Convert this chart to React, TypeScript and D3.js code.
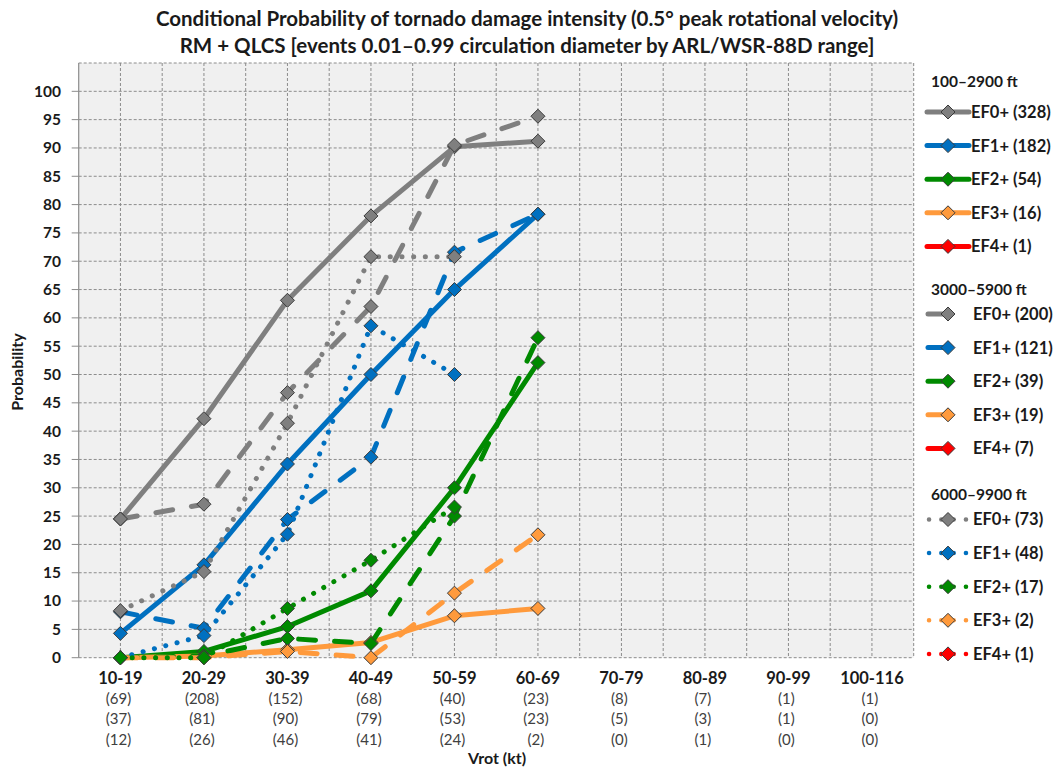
import React, { useEffect, useRef } from "react";
import * as d3 from "d3";

// categories along the x axis and the sample counts printed beneath them
const categories = ["10-19", "20-29", "30-39", "40-49", "50-59", "60-69", "70-79", "80-89", "90-99", "100-116"];
const countsRow1 = ["(69)", "(208)", "(152)", "(68)", "(40)", "(23)", "(8)", "(7)", "(1)", "(1)"];
const countsRow2 = ["(37)", "(81)", "(90)", "(79)", "(53)", "(23)", "(5)", "(3)", "(1)", "(0)"];
const countsRow3 = ["(12)", "(26)", "(46)", "(41)", "(24)", "(2)", "(0)", "(1)", "(0)", "(0)"];

const yTickValues = [0, 5, 10, 15, 20, 25, 30, 35, 40, 45, 50, 55, 60, 65, 70, 75, 80, 85, 90, 95, 100];

type V = number | null;

// 100–2900 ft (solid)
const solidEF0: V[] = [24.5, 42.2, 63.1, 78.0, 90.2, 91.2];
const solidEF1: V[] = [4.3, 16.4, 34.2, 50.0, 65.0, 78.3];
const solidEF2: V[] = [0, 1.1, 5.5, 11.8, 30.0, 52.1];
const solidEF3: V[] = [0, 0.3, 1.4, 2.7, 7.4, 8.7];
const solidEF4: V[] = [];

// 3000–5900 ft (dashed)
const dashEF0: V[] = [24.5, 27.1, 46.8, 62.0, 90.5, 95.6];
const dashEF1: V[] = [8.1, 5.2, 24.4, 35.4, 71.6, 78.3];
const dashEF2: V[] = [0, 0.3, 3.4, 2.5, 25.0, 56.5];
const dashEF3: V[] = [0, 0, 1.1, 0, 11.4, 21.7];
const dashEF4: V[] = [];

// 6000–9900 ft (dotted)
const dotEF0: V[] = [8.3, 15.2, 41.4, 70.8, 70.8];
const dotEF1: V[] = [0, 3.9, 21.8, 58.6, 50.0];
const dotEF2: V[] = [0, 0, 8.7, 17.2, 26.6];
const dotEF3: V[] = [];
const dotEF4: V[] = [];

const efColors = ["#7f7f7f", "#0070c0", "#008a00", "#ff9a3c", "#ff0000"];

const legendTitles = ["100–2900 ft", "3000–5900 ft", "6000–9900 ft"];
const legendSolid = ["EF0+ (328)", "EF1+ (182)", "EF2+ (54)", "EF3+ (16)", "EF4+ (1)"];
const legendDash = ["EF0+ (200)", "EF1+ (121)", "EF2+ (39)", "EF3+ (19)", "EF4+ (7)"];
const legendDot = ["EF0+ (73)", "EF1+ (48)", "EF2+ (17)", "EF3+ (2)", "EF4+ (1)"];

const FONT = "Lato, 'Open Sans', sans-serif";

const App: React.FC = () => {
  const svgRef = useRef<SVGSVGElement | null>(null);

  useEffect(() => {
    if (!svgRef.current) return;
    const svg = d3.select(svgRef.current);
    svg.selectAll("*").remove();

    const width = 1054;
    const height = 768;
    const plot = { left: 78.7, right: 913.7, top: 63, bottom: 657.7 };

    const x = d3.scaleBand<string>().domain(categories).range([plot.left, plot.right]).padding(0);
    const cx = (i: number) => (x(categories[i]) as number) + x.bandwidth() / 2;
    const y = d3.scaleLinear().domain([0, 105]).range([plot.bottom, plot.top]);

    svg.attr("width", width).attr("height", height).attr("viewBox", `0 0 ${width} ${height}`);
    svg.append("rect").attr("width", width).attr("height", height).attr("fill", "#fff");

    // plot background
    svg.append("rect")
      .attr("x", plot.left).attr("y", plot.top)
      .attr("width", plot.right - plot.left).attr("height", plot.bottom - plot.top)
      .attr("fill", "#f0f0f0");

    // grid
    const grid = svg.append("g").attr("stroke", "#8c8c8c").attr("stroke-width", 1).attr("stroke-dasharray", "3,2");
    d3.range(0, 106, 5).forEach(v => {
      grid.append("line").attr("x1", plot.left).attr("x2", plot.right).attr("y1", y(v)).attr("y2", y(v));
    });
    const vx: number[] = [];
    categories.forEach((c, i) => {
      vx.push(x(c) as number);
      vx.push(cx(i));
    });
    vx.push(plot.right);
    vx.slice(1).forEach(px => {
      grid.append("line").attr("x1", px).attr("x2", px).attr("y1", plot.top).attr("y2", plot.bottom);
    });

    // y axis
    svg.append("line")
      .attr("x1", plot.left).attr("x2", plot.left).attr("y1", plot.top).attr("y2", plot.bottom)
      .attr("stroke", "#8c8c8c").attr("stroke-width", 1.2);
    const yAxis = svg.append("g");
    yTickValues.forEach(v => {
      yAxis.append("line").attr("x1", plot.left - 7).attr("x2", plot.left).attr("y1", y(v)).attr("y2", y(v))
        .attr("stroke", "#8c8c8c");
      yAxis.append("text").attr("x", 61).attr("y", y(v)).attr("dy", "0.35em")
        .attr("text-anchor", "end").style("font-family", FONT).style("font-size", "15.5px")
        .style("font-weight", "700").style("fill", "#1a1a1a").text(String(v));
    });

    // x labels
    const xl = svg.append("g").style("font-family", FONT);
    categories.forEach((c, i) => {
      xl.append("text").attr("x", cx(i)).attr("y", 684).attr("text-anchor", "middle")
        .style("font-size", "16.5px").style("font-weight", "700").style("fill", "#1a1a1a").text(c);
      [countsRow1, countsRow2, countsRow3].forEach((row, r) => {
        xl.append("text").attr("x", cx(i) - 2).attr("y", 703.5 + r * 20.5).attr("text-anchor", "middle")
          .style("font-size", "15px").style("fill", "#404040").text(row[i]);
      });
    });

    xl.append("text").attr("x", 497).attr("y", 764).attr("text-anchor", "middle")
      .style("font-size", "16px").style("font-weight", "700").style("fill", "#1a1a1a").text("Vrot (kt)");

    svg.append("text").attr("transform", "rotate(-90)").attr("x", -372).attr("y", 23)
      .attr("text-anchor", "middle").style("font-family", FONT).style("font-size", "16px")
      .style("font-weight", "700").style("fill", "#1a1a1a").text("Probability");

    // title
    const title = svg.append("g").style("font-family", FONT).style("font-weight", "700").style("fill", "#1a1a1a");
    title.append("text").attr("x", 527).attr("y", 26).attr("text-anchor", "middle").style("font-size", "20.5px")
      .text("Conditional Probability of tornado damage intensity (0.5° peak rotational velocity)");
    title.append("text").attr("x", 527).attr("y", 53).attr("text-anchor", "middle").style("font-size", "20.5px")
      .text("RM + QLCS [events 0.01–0.99 circulation diameter by ARL/WSR-88D range]");

    // series
    const dashStyles: Record<string, string | null> = { solid: null, dash: "17,19", dot: "0.1,11.6" };
    const seriesList: { values: V[]; style: string; color: string }[] = [];
    [solidEF0, solidEF1, solidEF2, solidEF3, solidEF4].forEach((v, k) => seriesList.push({ values: v, style: "solid", color: efColors[k] }));
    [dashEF0, dashEF1, dashEF2, dashEF3, dashEF4].forEach((v, k) => seriesList.push({ values: v, style: "dash", color: efColors[k] }));
    [dotEF0, dotEF1, dotEF2, dotEF3, dotEF4].forEach((v, k) => seriesList.push({ values: v, style: "dot", color: efColors[k] }));

    const line = d3.line<V>()
      .defined(d => d != null)
      .x((_, i) => cx(i))
      .y(d => y(d as number));

    const diamond = (g: d3.Selection<SVGGElement, unknown, null, undefined>, px: number, py: number, color: string) => {
      const r = 7;
      g.append("path")
        .attr("d", `M${px},${py - r}L${px + r},${py}L${px},${py + r}L${px - r},${py}Z`)
        .attr("fill", color).attr("stroke", "#3a3a3a").attr("stroke-width", 1);
    };

    const marks = svg.append("g");
    seriesList.forEach(s => {
      if (!s.values.length) return;
      const g = marks.append("g");
      const p = g.append("path").datum(s.values).attr("d", line)
        .attr("fill", "none").attr("stroke", s.color)
        .attr("stroke-width", 5)
        .attr("stroke-linecap", "round").attr("stroke-linejoin", "round");
      const da = dashStyles[s.style];
      if (da) p.attr("stroke-dasharray", da);
      s.values.forEach((v, i) => {
        if (v == null) return;
        diamond(g, cx(i), y(v), s.color);
      });
    });

    // legend
    const lg = svg.append("g").style("font-family", FONT).style("font-weight", "700").style("fill", "#1a1a1a");
    const groupTitleY = [87, 295, 500];
    const firstEntryY = [112, 314, 519.5];
    const groups = [legendSolid, legendDash, legendDot];
    const styles = ["solid", "dash", "dot"];
    groups.forEach((labels, gi) => {
      lg.append("text").attr("x", 931).attr("y", groupTitleY[gi]).style("font-size", "15.5px").text(legendTitles[gi]);
      labels.forEach((lab, k) => {
        const ly = firstEntryY[gi] + k * 33.6;
        const color = efColors[k];
        const eg = lg.append("g");
        if (styles[gi] === "solid") {
          eg.append("line").attr("x1", 927).attr("x2", 969).attr("y1", ly).attr("y2", ly)
            .attr("stroke", color).attr("stroke-width", 5).attr("stroke-linecap", "round");
        } else if (styles[gi] === "dash") {
          eg.append("line").attr("x1", 928).attr("x2", 946).attr("y1", ly).attr("y2", ly)
            .attr("stroke", color).attr("stroke-width", 5).attr("stroke-linecap", "round");
        } else {
          eg.append("line").attr("x1", 929).attr("x2", 966).attr("y1", ly).attr("y2", ly)
            .attr("stroke", color).attr("stroke-width", 4.5).attr("stroke-linecap", "round")
            .attr("stroke-dasharray", "0.1,12.2");
        }
        diamond(eg as unknown as d3.Selection<SVGGElement, unknown, null, undefined>, 948, ly, color);
        eg.append("text").attr("x", styles[gi] === "solid" ? 971 : 973).attr("y", ly).attr("dy", "0.36em")
          .style("font-size", "16.5px").text(lab);
      });
    });
  }, []);

  return (
    <div style={{ position: "absolute", left: 0, top: 0, width: 1054, height: 768, background: "#fff" }}>
      <svg ref={svgRef} style={{ display: "block" }} />
    </div>
  );
};

export default App;
